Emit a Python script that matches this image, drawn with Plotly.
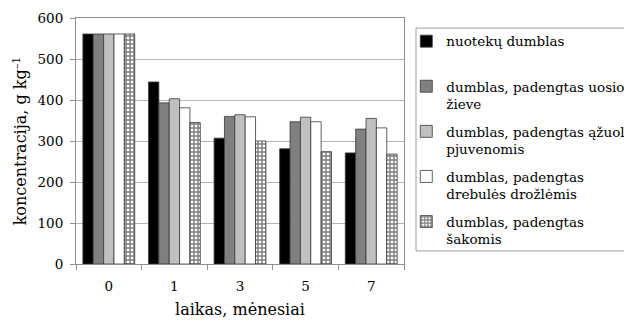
import plotly.graph_objects as go

# Months of storage
months = ["0", "1", "3", "5", "7"]

# Concentration, g kg-1, per sludge treatment
nuoteku_dumblas = [561, 444, 307, 281, 271]
uosio_zieve = [561, 393, 360, 347, 329]
azuolo_pjuvenos = [561, 403, 364, 358, 355]
drebules_drozles = [561, 381, 359, 347, 332]
sakos = [561, 345, 300, 274, 268]

series_names = [
    "nuotekų dumblas<br> ",
    "dumblas, padengtas uosio<br>žieve",
    "dumblas, padengtas ąžuolo<br>pjuvenomis",
    "dumblas, padengtas<br>drebulės drožlėmis",
    "dumblas, padengtas<br>šakomis",
]

y_ticks = [0, 100, 200, 300, 400, 500, 600]

FONT = "DejaVu Serif"
OUTLINE = dict(color="#3a3a3a", width=0.8)

fig = go.Figure()
styles = [
    dict(color="#000000"),
    dict(color="#808080"),
    dict(color="#c0c0c0"),
    dict(color="#ffffff"),
    dict(color="#ffffff",
         pattern=dict(shape="+", fgcolor="#000000", bgcolor="#ffffff",
                      size=4, solidity=0.6, fillmode="overlay")),
]
for i, (name, vals) in enumerate(zip(series_names, [
        nuoteku_dumblas, uosio_zieve, azuolo_pjuvenos,
        drebules_drozles, sakos])):
    fig.add_trace(go.Bar(
        x=months, y=vals, name=name, legendgroup=f"g{i}",
        marker=dict(line=OUTLINE, **styles[i]),
    ))

# frame around the legend entries
fig.add_shape(
    type="rect", xref="paper", yref="paper",
    x0=1.0366, x1=1.75, y0=0.053, y1=0.959,
    line=dict(color="#a0a0a0", width=1), fillcolor="white", layer="below",
)

fig.update_layout(
    width=624, height=320,
    margin=dict(l=76, r=220, t=18, b=56, autoexpand=False),
    paper_bgcolor="white", plot_bgcolor="white",
    barmode="group", bargap=0.21, bargroupgap=0,
    font=dict(family=FONT, size=13.5, color="#000000"),
    showlegend=True,
    legend=dict(
        x=1.007, xanchor="left", y=0.968, yanchor="top",
        borderwidth=0, bgcolor="rgba(0,0,0,0)",
        font=dict(family=FONT, size=13.5),
        valign="top", tracegroupgap=7, itemwidth=30,
    ),
    xaxis=dict(
        type="category", showgrid=False,
        showline=True, linecolor="#909090", linewidth=1, mirror=True,
        ticks="outside", ticklen=5, tickcolor="#909090", tickson="boundaries",
        ticklabelstandoff=10,
        title=dict(text="laikas, mėnesiai", standoff=10),
    ),
    yaxis=dict(
        range=[0, 600], tickvals=y_ticks,
        showgrid=True, gridcolor="#b5b5b5", gridwidth=1,
        showline=True, linecolor="#909090", linewidth=1, mirror=True,
        ticks="outside", ticklen=5, tickcolor="#909090",
        ticklabelstandoff=4,
        title=dict(text="koncentracija, g kg<sup>–1</sup>", standoff=6),
    ),
)

fig.write_html("out.html")
